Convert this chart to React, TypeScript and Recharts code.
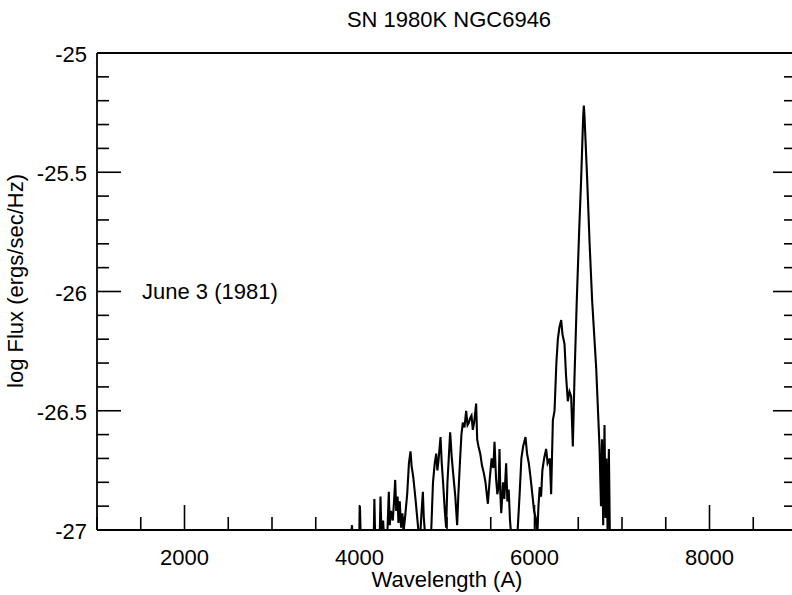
import { LineChart, Line, XAxis, YAxis } from "recharts";

// spectrum (wavelength in A, log flux)
const wavelengths = [
  3880, 3915, 3925, 3995, 4005, 4015, 4030, 4160, 4170, 4180, 4200, 4230, 4240, 4250, 4270, 4290,
  4320, 4335, 4345, 4360, 4380, 4395, 4408, 4420, 4435, 4445, 4460, 4475, 4490, 4505, 4520, 4545,
  4565, 4583, 4595, 4615, 4640, 4655, 4670, 4690, 4705, 4724, 4735, 4750, 4790, 4820, 4840, 4860,
  4877, 4890, 4905, 4926, 4940, 4955, 4975, 4990, 5005, 5020, 5036, 5055, 5075, 5095, 5116, 5130,
  5150, 5165, 5181, 5200, 5219, 5235, 5250, 5265, 5280, 5295, 5310, 5333, 5345, 5360, 5380, 5400,
  5420, 5440, 5467, 5490, 5510, 5530, 5543, 5560, 5575, 5590, 5600, 5610, 5620, 5640, 5655, 5676,
  5690, 5705, 5720, 5740, 5770, 5800, 5830, 5850, 5870, 5897, 5915, 5935, 5955, 5975, 5995, 6015,
  6030, 6045, 6060, 6075, 6090, 6110, 6133, 6150, 6175, 6190, 6210, 6229, 6250, 6267, 6285, 6305,
  6320, 6343, 6360, 6381, 6400, 6419, 6438, 6457, 6483, 6510, 6533, 6556, 6564, 6572, 6602, 6630,
  6659, 6705, 6743, 6760, 6772, 6785, 6800, 6812, 6822, 6835, 6850, 6862, 6880,
];
const logFlux = [
  -27.1, -26.98, -27.1, -27.1, -26.9, -27.05, -27.1, -27.1, -26.87, -27.05, -27.1, -27.05, -26.86, -27.0, -26.96, -27.1,
  -27.0, -26.84, -26.98, -26.92, -26.96, -26.88, -26.79, -26.92, -26.86, -26.97, -26.88, -26.99, -26.93, -27.0, -26.95, -26.85,
  -26.72, -26.67, -26.73, -26.78, -26.87, -26.93, -26.99, -27.05, -26.95, -26.84, -26.95, -27.02, -27.1, -27.0, -26.8, -26.72,
  -26.68, -26.75, -26.7, -26.61, -26.72, -26.8, -26.92, -26.99, -26.8, -26.7, -26.59, -26.7, -26.78, -26.86, -26.98, -26.85,
  -26.7, -26.6, -26.55, -26.57, -26.5, -26.56, -26.55, -26.53, -26.52, -26.58, -26.55, -26.47, -26.62, -26.65, -26.68, -26.73,
  -26.76, -26.8, -26.89, -26.78, -26.7, -26.74, -26.63, -26.78, -26.85, -26.82, -26.66, -26.85, -26.93, -26.8, -26.87, -26.72,
  -26.88, -26.83, -26.96, -27.05, -27.1, -27.05, -26.85, -26.7, -26.65, -26.61, -26.68, -26.72, -26.78, -26.85, -26.92, -26.95,
  -27.05, -26.9, -26.82, -26.86, -26.75, -26.7, -26.66, -26.72, -26.7, -26.85, -26.54, -26.5, -26.3, -26.2, -26.15, -26.12,
  -26.18, -26.22, -26.35, -26.46, -26.42, -26.44, -26.65, -26.36, -26.04, -25.75, -25.53, -25.27, -25.22, -25.27, -25.53, -25.8,
  -26.04, -26.32, -26.65, -26.9, -26.62, -26.98, -26.56, -26.95, -26.7, -27.0, -26.66, -27.05, -27.1,
];

const xTicks = [1000, 1500, 2000, 2500, 3000, 3500, 4000, 4500, 5000, 5500, 6000, 6500, 7000, 7500, 8000, 8500, 9000];
const xLabels = [2000, 4000, 6000, 8000];
const yTicks = [
  -27, -26.9, -26.8, -26.7, -26.6, -26.5, -26.4, -26.3, -26.2, -26.1, -26, -25.9, -25.8, -25.7, -25.6, -25.5,
  -25.4, -25.3, -25.2, -25.1, -25,
];
const yLabels = [-27, -26.5, -26, -25.5, -25];

const data = wavelengths.map((w, i) => ({ wavelength: w, flux: logFlux[i] }));

const FONT = "'Liberation Sans', Arial, Helvetica, sans-serif";
const isMajorY = (v: number) => yLabels.some((l) => Math.abs(l - v) < 1e-6);

// inward ticks, long ones at the labelled values
const BottomTick = ({ x, y, payload }: any) => {
  const major = payload.value % 2000 === 0;
  return (
    <g>
      <line x1={x} x2={x} y1={y} y2={y - (major ? 25 : 13)} stroke="#000" strokeWidth={1.6} />
      {xLabels.includes(payload.value) && (
        <text x={x} y={y + 35} textAnchor="middle" fontFamily={FONT} fontSize={22} fill="#000">
          {payload.value}
        </text>
      )}
    </g>
  );
};

const TopTick = ({ x, y, payload }: any) => {
  const major = payload.value % 2000 === 0;
  return <line x1={x} x2={x} y1={y} y2={y + (major ? 25 : 13)} stroke="#000" strokeWidth={1.6} />;
};

const LeftTick = ({ x, y, payload }: any) => {
  const major = isMajorY(payload.value);
  return (
    <g>
      <line x1={x} x2={x + (major ? 24 : 12)} y1={y} y2={y} stroke="#000" strokeWidth={1.6} />
      {major && (
        <text x={x - 10} y={y + 9} textAnchor="end" fontFamily={FONT} fontSize={22} fill="#000">
          {String(payload.value)}
        </text>
      )}
    </g>
  );
};

const RightTick = ({ x, y, payload }: any) => {
  const major = isMajorY(payload.value);
  return <line x1={x} x2={x - (major ? 24 : 13)} y1={y} y2={y} stroke="#000" strokeWidth={1.6} />;
};

export default function App() {
  return (
    <div style={{ position: "absolute", left: 0, top: 0, width: 792, height: 595, overflow: "hidden", background: "#fff" }}>
      <LineChart
        width={810}
        height={595}
        data={data}
        margin={{ top: 43, right: 3, bottom: 35, left: 57 }}
      >
        <XAxis
          dataKey="wavelength"
          type="number"
          domain={[1000, 9000]}
          ticks={xTicks}
          interval={0}
          height={30}
          tickSize={0}
          tickMargin={0}
          tick={<BottomTick />}
          axisLine={{ stroke: "#000", strokeWidth: 1.8 }}
          allowDataOverflow
        />
        <XAxis
          xAxisId="top"
          orientation="top"
          type="number"
          domain={[1000, 9000]}
          ticks={xTicks}
          interval={0}
          height={10}
          tickSize={0}
          tickMargin={0}
          tick={<TopTick />}
          axisLine={{ stroke: "#000", strokeWidth: 1.8 }}
          allowDataOverflow
        />
        <YAxis
          type="number"
          domain={[-27, -25]}
          ticks={yTicks}
          interval={0}
          width={40}
          tickSize={0}
          tickMargin={0}
          tick={<LeftTick />}
          axisLine={{ stroke: "#000", strokeWidth: 1.8 }}
          allowDataOverflow
        />
        <YAxis
          yAxisId="right"
          orientation="right"
          type="number"
          domain={[-27, -25]}
          ticks={yTicks}
          interval={0}
          width={10}
          tickSize={0}
          tickMargin={0}
          tick={<RightTick />}
          axisLine={{ stroke: "#000", strokeWidth: 1.8 }}
          allowDataOverflow
        />
        <Line
          type="linear"
          dataKey="flux"
          stroke="#000"
          strokeWidth={2.1}
          dot={false}
          isAnimationActive={false}
        />
      </LineChart>
      <svg
        width={792}
        height={595}
        style={{ position: "absolute", left: 0, top: 0, pointerEvents: "none" }}
        fontFamily={FONT}
        fontSize={22}
      >
        <text x={449} y={27} textAnchor="middle" fill="#000">SN 1980K NGC6946</text>
        <text x={447} y={587} textAnchor="middle" fill="#000">Wavelength (A)</text>
        <text x={23} y={281} textAnchor="middle" fill="#000" transform="rotate(-90 23 281)">
          log Flux (ergs/sec/Hz)
        </text>
        <text x={142} y={299} fill="#000">June 3 (1981)</text>
      </svg>
    </div>
  );
}
